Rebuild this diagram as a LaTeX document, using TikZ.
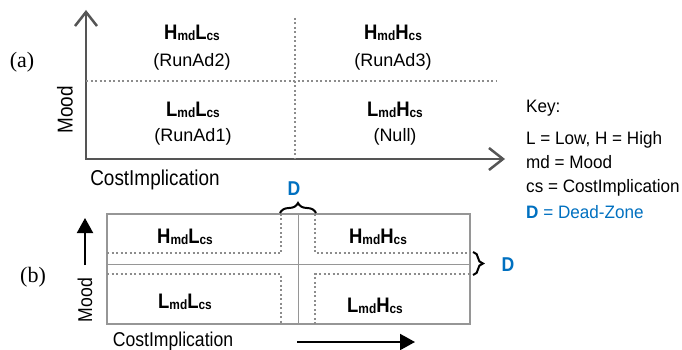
\documentclass[tikz,border=0pt]{standalone}
\usepackage{fontspec}
\setmainfont{Liberation Serif}
\setsansfont{Liberation Sans}
\newfontfamily\narrowsf[FakeStretch=0.88]{Liberation Sans}
\newfontfamily\keysf[FakeStretch=0.95]{Liberation Sans}
\usetikzlibrary{arrows.meta,decorations.pathreplacing}

\definecolor{axisgray}{RGB}{85,85,85}
\definecolor{dotgray}{RGB}{140,140,140}
\definecolor{boxgray}{RGB}{150,150,150}
\definecolor{dzblue}{RGB}{0,112,192}

\newcommand{\sub}[1]{\raisebox{-1.5pt}{\fontsize{13.5}{14}\selectfont #1}}
\newcommand{\zone}[2]{\textbf{#1\sub{md}#2\sub{cs}}}

\begin{document}
\begin{tikzpicture}[x=1pt, y=-1pt, >={Straight Barb[length=14pt,width=22pt]},
    axis/.style={draw=axisgray, line width=2.5pt},
    dotline/.style={draw=dotgray, line width=2pt, dash pattern=on 2pt off 2.5pt},
    grid/.style={draw=boxgray, line width=1.5pt},
    lbl/.style={inner sep=0pt, font=\sffamily\fontsize{18}{20}\selectfont},
    keylbl/.style={inner sep=0pt, anchor=base west, font=\keysf\fontsize{18}{20}\selectfont},
    axislbl/.style={inner sep=0pt, font=\narrowsf\fontsize{21.5}{22}\selectfont},
    smallaxislbl/.style={inner sep=0pt, font=\narrowsf\fontsize{20}{22}\selectfont},
    zonelbl/.style={inner sep=0pt, font=\narrowsf\fontsize{21}{22}\selectfont},
    part/.style={inner sep=0pt, font=\fontsize{22}{24}\selectfont},
    dz/.style={inner sep=0pt, text=dzblue, font=\narrowsf\bfseries\fontsize{20}{22}\selectfont},
    dzbrace/.style={draw=black, line width=2pt, decorate, decoration={brace, amplitude=10pt}},
    arr/.style={draw=black, line width=2pt, -{Triangle[length=15pt,width=16pt]}}]
    \useasboundingbox (0,0) rectangle (682,350);

    % (a) Axes
    \coordinate (ya) at (86,10);
    \coordinate (oa) at (86,159);
    \coordinate (xa) at (505,159);
    \draw[axis, <->] (ya) -- (oa) -- (xa);
    \draw[dotline] (86,81) -- (497,81);
    \draw[dotline] (295,18) -- (295,159);

    % (a) Quadrants
    \node[zonelbl] (hla) at (192,33) {\zone{H}{L}};
    \node[lbl] (hlrun) at (192,62) {(RunAd2)};
    \node[zonelbl] (hha) at (393,33) {\zone{H}{H}};
    \node[lbl] (hhrun) at (393,62) {(RunAd3)};
    \node[zonelbl] (lla) at (193,110) {\zone{L}{L}};
    \node[lbl] (llrun) at (193,137) {(RunAd1)};
    \node[zonelbl] (lha) at (395,110) {\zone{L}{H}};
    \node[lbl] (lhrun) at (395,137) {(Null)};

    \node[part] (pa) at (22,62) {(a)};
    \node[axislbl, rotate=90] (mooda) at (65,110) {Mood};
    \node[axislbl] (costa) at (155,180) {CostImplication};

    % (b) Box with dead-zone
    \draw[grid] (107,214) rectangle (470,324);
    \draw[grid, line width=1pt] (298,214) -- (298,324);
    \draw[grid, line width=1pt] (107,264) -- (470,264);
    \draw[dotline] (107,253) -- (281,253) -- (281,214);
    \draw[dotline] (315,214) -- (315,253) -- (470,253);
    \draw[dotline] (107,274) -- (281,274) -- (281,324);
    \draw[dotline] (315,324) -- (315,274) -- (470,274);

    \draw[dzbrace] (280,213) -- (316,213);
    \draw[dzbrace] (473,252) -- (473,275);
    \node[dz] (dtop) at (294,189) {D};
    \node[dz] (dright) at (508,265) {D};

    % (b) Quadrants
    \node[zonelbl] (hlb) at (185,237) {\zone{H}{L}};
    \node[zonelbl] (hhb) at (378,237) {\zone{H}{H}};
    \node[zonelbl] (llb) at (185,302) {\zone{L}{L}};
    \node[zonelbl] (lhb) at (375,306) {\zone{L}{H}};

    \coordinate (mood0) at (85,265);
    \coordinate (mood1) at (85,218);
    \draw[arr] (mood0) -- (mood1);
    \coordinate (cost0) at (297,342);
    \coordinate (cost1) at (415,342);
    \draw[arr] (cost0) -- (cost1);
    \node[part] (pb) at (33,277) {(b)};
    \node[smallaxislbl, rotate=90] (moodb) at (85,300) {Mood};
    \node[smallaxislbl] (costb) at (173,341) {CostImplication};

    % Key
    \node[keylbl] (key) at (526,113) {Key:};
    \node[keylbl] (key1) at (526,144) {L = Low, H = High};
    \node[keylbl] (key2) at (526,168) {md = Mood};
    \node[keylbl] (key3) at (526,192) {cs = CostImplication};
    \node[keylbl, text=dzblue] (key4) at (526,218) {\textbf{D} = Dead-Zone};
\end{tikzpicture}
\end{document}
